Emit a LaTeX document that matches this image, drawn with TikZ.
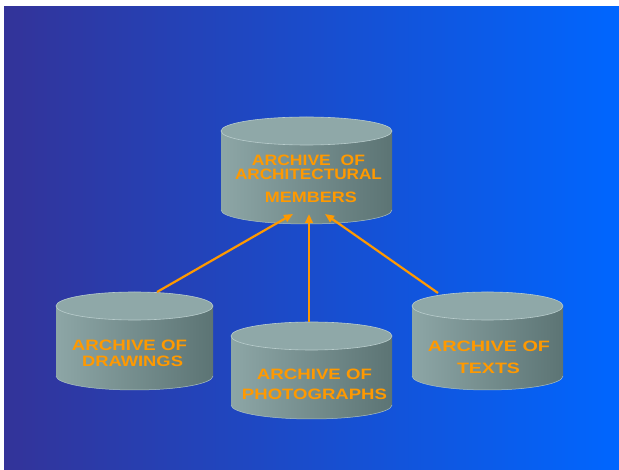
\documentclass[tikz,border=0pt]{standalone}
\usepackage{fontspec}
\setmainfont{Liberation Sans}
\usepackage{graphicx}
\usetikzlibrary{arrows.meta}
\definecolor{bgL}{HTML}{333399}
\definecolor{bgM}{HTML}{2850CE}
\definecolor{bgR}{HTML}{0066FF}
\definecolor{cylLight}{HTML}{8DA6A6}
\definecolor{cylDark}{HTML}{5C7474}
\definecolor{cylTop}{HTML}{8FA8A8}
\definecolor{cylRim}{HTML}{B8CCCC}
\definecolor{orng}{HTML}{FF9900}
% #1 left x, #2 right x, #3 top centre y, #4 bottom centre y, #5 y radius
\newcommand{\cylshape}[5]{%
  \pgfmathsetmacro\crx{(#2-#1)/2}%
  \pgfmathsetmacro\ccx{(#2+#1)/2}%
  \shade[left color=cylLight,right color=cylDark]
    (#1,#3) -- (#1,#4) arc[start angle=180,end angle=360,x radius=\crx,y radius=#5] -- (#2,#3) -- cycle;
  \draw[cylRim!70!cylLight,line width=0.5pt]
    (#1,#4) arc[start angle=180,end angle=360,x radius=\crx,y radius=#5];
  \fill[cylTop] (\ccx,#3) ellipse[x radius=\crx,y radius=#5];
  \draw[cylRim,line width=0.6pt] (\ccx,#3) ellipse[x radius=\crx,y radius=#5];
}
\newcommand{\wt}[2]{\resizebox{#1pt}{10.5pt}{#2}}
\tikzset{
  lbl/.style={text=orng,font=\bfseries,inner sep=0pt},
  arr/.style={draw=orng,line width=2.2pt,-{Triangle[length=9pt,width=7.5pt]}}
}
\begin{document}
\begin{tikzpicture}[x=1pt,y=1pt]
\useasboundingbox (0,0) rectangle (619,469);
\shade[left color=bgL,middle color=bgM,right color=bgR] (4,0) rectangle (619,462);

% cylinders
\cylshape{221}{392}{338}{259}{14}
\cylshape{56}{213}{163}{93}{14}
\cylshape{231}{392}{133}{64}{14}
\cylshape{412}{563}{163}{93}{14}

% connector end points
\coordinate (drawTop) at (157,177);
\coordinate (photoTop) at (309,147);
\coordinate (textTop) at (438,176);
\coordinate (membL) at (293,255);
\coordinate (membM) at (309,255);
\coordinate (membR) at (325,255);

\draw[arr] (drawTop) -- (membL);
\draw[arr] (photoTop) -- (membM);
\draw[arr] (textTop) -- (membR);

% labels
\node[lbl] (m1) at (308.5,309) {\wt{113}{ARCHIVE\ \ OF}};
\node[lbl] (m2) at (308.5,295) {\wt{147}{ARCHITECTURAL}};
\node[lbl] (m3) at (311,272) {\wt{92}{MEMBERS}};

\node[lbl] (d1) at (129.5,124) {\wt{115}{ARCHIVE OF}};
\node[lbl] (d2) at (132.5,108) {\wt{101}{DRAWINGS}};

\node[lbl] (p1) at (314.5,95) {\wt{115}{ARCHIVE OF}};
\node[lbl] (p2) at (314.5,75) {\wt{145}{PHOTOGRAPHS}};

\node[lbl] (t1) at (489,123) {\wt{122}{ARCHIVE OF}};
\node[lbl] (t2) at (488.5,101) {\wt{63}{TEXTS}};
\end{tikzpicture}
\end{document}
